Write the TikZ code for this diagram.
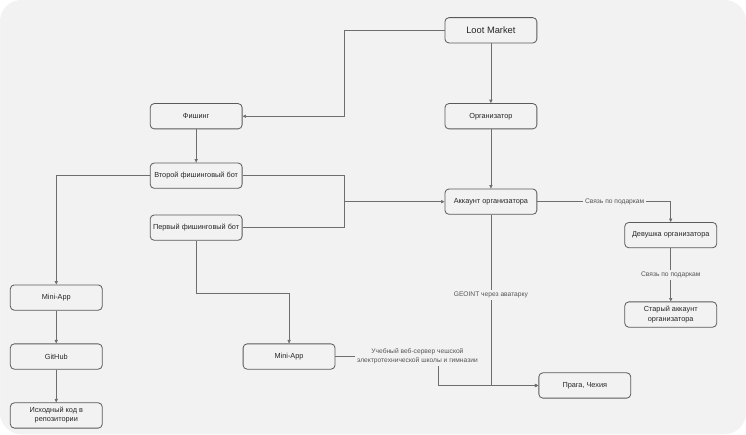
\documentclass[tikz,border=0pt]{standalone}
\usepackage{fontspec}
\setmainfont{Liberation Sans}
\usetikzlibrary{arrows.meta}
\definecolor{bgc}{HTML}{F2F2F2}
\definecolor{linec}{HTML}{6E6E6E}
\definecolor{boxc}{HTML}{5A5A5A}
\definecolor{txtc}{HTML}{262626}
\definecolor{lblc}{HTML}{555555}
\begin{document}
\begin{tikzpicture}[x=0.75pt,y=-0.75pt,
	box/.style={draw=boxc,line width=0.6pt,rounded corners=3pt,fill=bgc,
		minimum width=69pt,minimum height=19pt,inner sep=1pt,align=center,
		text=txtc,font=\fontsize{5.5}{6.8}\selectfont},
	lbl/.style={fill=bgc,text=lblc,inner sep=1.5pt,align=center,
		font=\fontsize{5}{6.5}\selectfont},
	>={Triangle[length=2.6pt,width=2.4pt]},
	every path/.style={draw=linec,line width=0.5pt}]
	\useasboundingbox (0,0) rectangle (746,434);
	\fill[white] (0,0) rectangle (746,434);
	\fill[bgc,rounded corners=16pt] (0,0) rectangle (746,434);
	\node[box,font=\fontsize{7}{8}\selectfont] (1) at (491,30) {Loot Market};
	\node[box] (2) at (491,116) {Организатор};
	\node[box] (3) at (196,116) {Фишинг};
	\node[box] (4) at (196,175.5) {Второй фишинговый бот};
	\node[box] (5) at (196,227.5) {Первый фишинговый бот};
	\node[box] (6) at (491,201.5) {Аккаунт организатора};
	\node[box] (7) at (671,235) {Девушка организатора};
	\node[box] (8) at (671,314.5) {Старый аккаунт\\организатора};
	\node[box] (9) at (56,297.5) {Mini-App};
	\node[box] (10) at (56,356.5) {GitHub};
	\node[box] (11) at (56,415.5) {Исходный код в\\репозитории};
	\node[box] (12) at (289,356.5) {Mini-App};
	\node[box] (13) at (585,385.5) {Прага, Чехия};
	\coordinate (j) at (344,201.5);
	\draw[->] (1.west) -- (344,30) |- (3.east);
	\draw[->] (1) -- (2);
	\draw[->] (2) -- (6);
	\draw[->] (3) -- (4);
	\draw (4.east) -| (j);
	\draw (5.east) -| (j);
	\draw[->] (j) -- (6.west);
	\draw[->] (4.west) -| (9.north);
	\draw[->] (9) -- (10);
	\draw[->] (10) -- (11);
	\draw[->] (5.south) -- (196,293) -| (12.north);
	\draw[->] (6.east) -| node[lbl,pos=0.29] {Связь по подаркам} (7.north);
	\draw[->] (7) -- node[lbl] {Связь по подаркам} (8);
	\draw[->] (6.south) |- node[lbl,pos=0.235] {GEOINT через аватарку} (13.west);
	\draw[->] (12.east) -| (438,385.5) node[lbl,pos=0.4] {Учебный веб-сервер чешской\\электротехнической школы и гимназии} -- (13.west);
\end{tikzpicture}
\end{document}
